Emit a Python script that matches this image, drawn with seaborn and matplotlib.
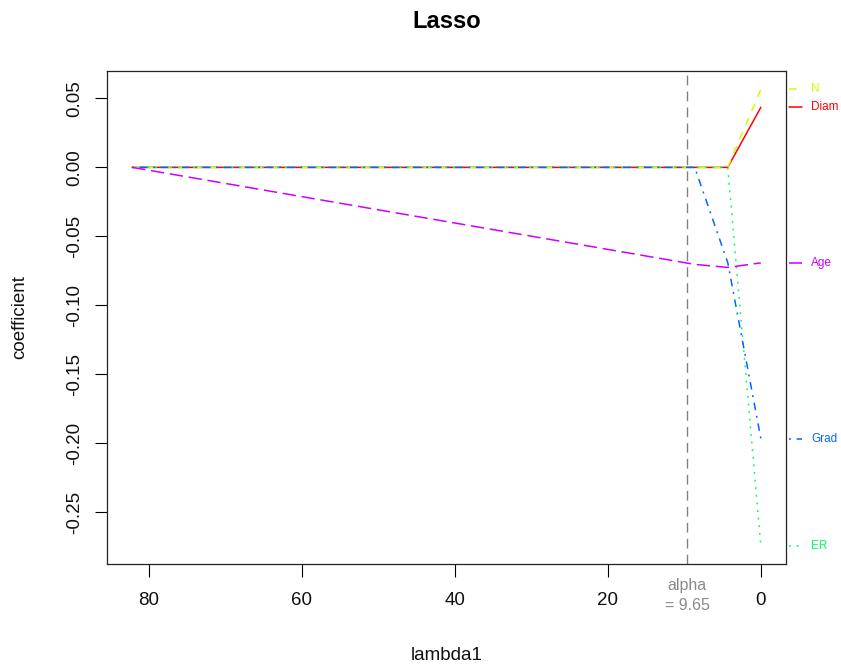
import matplotlib
matplotlib.use("Agg")
import matplotlib.pyplot as plt
import matplotlib.transforms as mtransforms
import pandas as pd
import seaborn as sns

# Lasso coefficient path (penalty lambda1 on the x axis)
lambda1 = [82.2, 8.65, 4.33, 0.0]
diam = [0.0, 0.0, 0.0, 0.0435]
n_nodes = [0.0, 0.0, 0.0, 0.0566]
er = [0.0, 0.0, 0.0, -0.2742]
grad = [0.0, 0.0, -0.069, -0.1965]
age = [0.0, -0.0703, -0.0725, -0.0692]

variables = ["Diam", "N", "ER", "Grad", "Age"]
series = [diam, n_nodes, er, grad, age]
colors = ["#FF0000", "#CCFF00", "#00FF66", "#0066FF", "#CC00FF"]
alpha_value = 9.65

y_ticks = [0.05, 0.00, -0.05, -0.10, -0.15, -0.20, -0.25]
x_ticks = [80, 60, 40, 20, 0]

# line types: solid, dashed, dotted, dot-dash, long dash
u = 1.25
dash_specs = ["", (4 * u, 4 * u), (1 * u, 3 * u), (1 * u, 3 * u, 4 * u, 3 * u), (7 * u, 3 * u)]
lw = 1.1

df = pd.concat(
    [pd.DataFrame({"lambda1": lambda1, "coefficient": vals, "variable": name})
     for name, vals in zip(variables, series)],
    ignore_index=True,
)

sns.set_theme(style="white")
plt.rcParams["font.family"] = ["Liberation Sans", "DejaVu Sans"]
plt.rcParams["axes.unicode_minus"] = False

fig = plt.figure(figsize=(8.41, 6.66), dpi=100)
ax = fig.add_axes([107 / 841, 1 - 564 / 666, (786 - 107) / 841, (564 - 71) / 666])

sns.lineplot(
    data=df, x="lambda1", y="coefficient", hue="variable", style="variable",
    hue_order=variables, style_order=variables,
    palette=dict(zip(variables, colors)), dashes=dict(zip(variables, dash_specs)),
    estimator=None, sort=False, legend=False, linewidth=lw, ax=ax,
)

# R-style 4% axis expansion, lambda decreasing to the right
xlo, xhi = min(lambda1), max(lambda1)
xpad = 0.04 * (xhi - xlo)
ax.set_xlim(xhi + xpad, xlo - xpad)
all_vals = [v for s in series for v in s]
ylo, yhi = min(all_vals), max(all_vals)
ypad = 0.04 * (yhi - ylo)
ax.set_ylim(ylo - ypad, yhi + ypad)

ax.set_xticks(x_ticks)
ax.set_xticklabels([str(t) for t in x_ticks])
ax.set_yticks(y_ticks)
ax.set_yticklabels([f"{t:.2f}" for t in y_ticks], rotation=90, va="center")
ax.tick_params(axis="both", which="both", direction="out", length=9, width=0.8,
               color="black", labelsize=13.5, labelcolor="#111111",
               bottom=True, left=True, top=False, right=False)
ax.tick_params(axis="x", pad=11)
ax.tick_params(axis="y", pad=8)
for sp in ax.spines.values():
    sp.set_color("#222222")
    sp.set_linewidth(0.9)

# selected penalty
ax.axvline(alpha_value, color="#808080", lw=1.0, dashes=(7, 4.5))
xt = mtransforms.blended_transform_factory(ax.transData, ax.transAxes)
ax.text(alpha_value, -0.0426, "alpha", transform=xt, ha="center", va="center",
        color="#8a8a8a", fontsize=11.5, clip_on=False)
ax.text(alpha_value, -0.0832, f"= {alpha_value}", transform=xt, ha="center", va="center",
        color="#8a8a8a", fontsize=11.5, clip_on=False)

# variable names at the end of each path
yt = mtransforms.blended_transform_factory(ax.transAxes, ax.transData)
for name, vals, col, dsh in zip(variables, series, colors, dash_specs):
    kw = {"linestyle": "-"} if dsh == "" else {"dashes": dsh}
    ax.plot([1.004, 1.024], [vals[-1], vals[-1]], transform=yt, color=col, lw=lw,
            clip_on=False, **kw)
    ax.text(1.037, vals[-1], name, transform=yt, color=col, fontsize=8.5,
            ha="left", va="center", clip_on=False)

ax.set_xlabel("lambda1", fontsize=13.5, color="#111111")
ax.set_ylabel("coefficient", fontsize=13.5, color="#111111")
ax.xaxis.label.set_va("center")
ax.yaxis.label.set_va("center")
ax.xaxis.set_label_coords(0.5, (564 - 655) / 493)
ax.yaxis.set_label_coords((20 - 107) / 679, 0.5)
ax.set_title("Lasso", fontsize=17, fontweight="bold", color="black",
             y=(564 - 21) / 493, va="center", pad=0)

fig.savefig("out.png", dpi=100, facecolor="white")
